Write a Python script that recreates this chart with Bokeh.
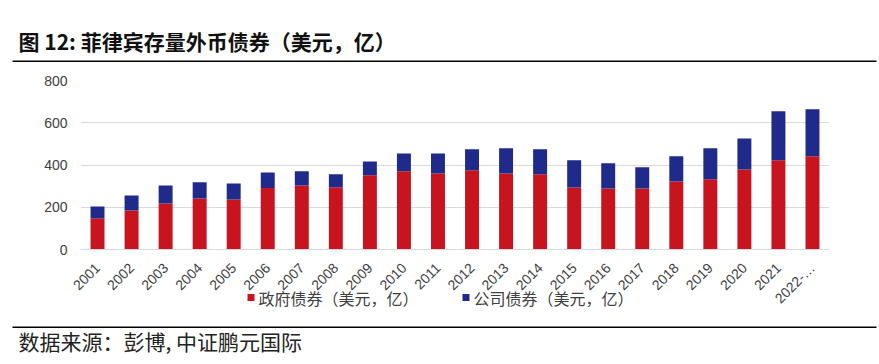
from bokeh.plotting import figure
from bokeh.layouts import column
from bokeh.models import FactorRange, Range1d, Label, BoxAnnotation, Column
from bokeh.embed import file_html
from bokeh.resources import INLINE
import math

years = ["2001", "2002", "2003", "2004", "2005", "2006", "2007", "2008", "2009", "2010", "2011",
         "2012", "2013", "2014", "2015", "2016", "2017", "2018", "2019", "2020", "2021", "2022-…"]
gov = [148, 185, 218, 242, 237, 291, 303, 295, 351, 370, 360, 375, 360, 356, 294, 289, 289, 322, 332, 379, 422, 441]
corp = [56, 71, 85, 76, 76, 74, 67, 61, 66, 85, 95, 99, 119, 118, 128, 119, 100, 119, 147, 147, 232, 223]
series = ["政府债券（美元，亿）", "公司债券（美元，亿）"]
colors = ["#C8141E", "#1F2A8A"]
y_ticks = [0, 200, 400, 600, 800]
title_text = "图 12: 菲律宾存量外币债券（美元，亿）"
source_text = "数据来源：彭博, 中证鹏元国际"

W = 879
BL, BR = 80, 50
TOP_H = 62
MAIN_TOP, MAIN_FRAME, MAIN_BOTTOM = 18, 169, 70
OVERLAP = 40
BOT_H = 85


def strip(h):
    f = figure(width=W, height=h, output_backend="svg", toolbar_location=None,
               x_axis_type=None, y_axis_type=None,
               x_range=Range1d(0, W), y_range=Range1d(h, 0),
               min_border_left=0, min_border_right=0, min_border_top=0, min_border_bottom=0)
    f.outline_line_color = None
    f.background_fill_alpha = 0
    f.border_fill_alpha = 0
    f.grid.visible = False
    return f


def hline(f, y, x0=12, x1=876):
    f.add_layout(BoxAnnotation(left=x0, right=x1, top=y, bottom=y + 1.5,
                               fill_color="black", fill_alpha=1, line_alpha=0))


# title strip
top = strip(TOP_H)
top.add_layout(Label(x=18, y=40, text=title_text, text_font="Noto Sans CJK SC",
                     text_font_style="bold", text_font_size="21px", text_color="#111111",
                     text_baseline="middle"))
hline(top, 60)

# main chart
p = figure(width=W, height=MAIN_TOP + MAIN_FRAME + MAIN_BOTTOM, output_backend="svg", toolbar_location=None,
           x_range=FactorRange(*years, range_padding=0), y_range=Range1d(0, 800),
           min_border_left=BL, min_border_right=BR, min_border_top=MAIN_TOP, min_border_bottom=MAIN_BOTTOM)
p.outline_line_color = None

src = dict(year=years, gov=gov, corp=corp)
p.vbar_stack(["gov", "corp"], x="year", width=0.41, color=colors, source=src, line_width=0)

p.xgrid.grid_line_color = None
p.ygrid.grid_line_color = "#D9D9D9"
p.yaxis.ticker = y_ticks
p.yaxis.axis_line_color = None
p.yaxis.major_tick_line_color = None
p.yaxis.major_tick_out = 0
p.yaxis.minor_tick_line_color = None
p.yaxis.major_label_text_font = "Liberation Sans"
p.yaxis.major_label_text_font_size = "14px"
p.yaxis.major_label_text_color = "#404040"
p.yaxis.major_label_standoff = 13

p.xaxis.axis_line_color = "#D9D9D9"
p.xaxis.major_tick_line_color = None
p.xaxis.major_tick_out = 0
p.xaxis.minor_tick_line_color = None
p.xaxis.major_label_orientation = math.pi / 4
p.xaxis.major_label_text_font = "Liberation Sans"
p.xaxis.major_label_text_font_size = "14px"
p.xaxis.major_label_text_color = "#404040"
p.xaxis.major_label_standoff = 16

# legend + source strip (pulled up to overlap the bottom of the chart)
bot = strip(BOT_H)
y0 = 279
leg_y = 297 - y0
for (sx, tx), name, c in zip([(247, 258), (462, 473)], series, colors):
    bot.add_layout(BoxAnnotation(left=sx, right=sx + 7, top=leg_y - 3.5, bottom=leg_y + 3.5,
                                 fill_color=c, fill_alpha=1, line_alpha=0))
    bot.add_layout(Label(x=tx, y=leg_y, text=name, text_font="Noto Sans CJK SC",
                         text_font_size="16px", text_color="#404040", text_baseline="middle"))
hline(bot, 326 - y0)
bot.add_layout(Label(x=18, y=340 - y0, text=source_text, text_font="Noto Sans CJK SC",
                     text_font_size="21px", text_color="#222222", text_baseline="middle"))

layout = column(Column(top), Column(p), Column(bot, margin=(-OVERLAP, 0, 0, 0)), spacing=0)
open("out.html", "w").write(file_html(layout, INLINE))
